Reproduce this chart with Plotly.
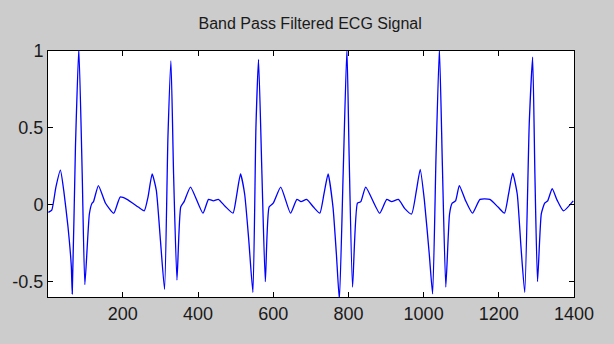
import plotly.graph_objects as go

# Key samples (sample index, amplitude)
sample_idx = [
    2, 11, 22, 34, 43, 54, 63, 65.5, 74, 83, 92, 99, 111, 118, 122, 135, 154, 176, 193, 211, 241, 257,
    267, 278, 289, 300, 311, 320, 328, 335, 344, 354, 363, 380,
    413, 428, 441, 454, 472, 493, 502, 513, 524, 535, 546, 554, 561, 570, 579, 589, 600, 620,
    646, 663, 674, 689, 707, 724, 735, 746, 759, 768, 776, 786, 796, 802, 811, 824, 833, 846,
    883, 902, 915, 933, 950, 968, 981, 991, 1002, 1015, 1024, 1033, 1042, 1050, 1059, 1069, 1076, 1085, 1095,
    1111, 1130, 1150, 1176, 1198, 1215, 1226, 1237, 1249, 1259, 1269, 1281, 1290, 1296, 1303, 1313, 1322, 1330, 1342,
    1355, 1372, 1398,
]
amplitude = [
    -0.05, -0.035, 0.115, 0.225, 0.09, -0.14, -0.40, -0.58, 0.375, 1.02, 0.2, -0.52, -0.06, 0.01, 0.02, 0.125, 0.01, -0.055, 0.05, 0.035, -0.015, -0.04,
    0.05, 0.2, 0.095, -0.23, -0.55, 0.44, 0.935, 0.2, -0.49, -0.015, 0.02, 0.115,
    -0.055, 0.035, 0.025, 0.035, -0.01, -0.055, 0.05, 0.2, 0.07, -0.23, -0.57, 0.5, 0.945, 0.2, -0.5, -0.015, 0.01, 0.115,
    -0.055, 0.035, 0.02, 0.035, -0.015, -0.055, 0.07, 0.2, -0.015, -0.32, -0.62, 0.2, 1.02, 0.31, -0.535, 0.01, 0.02, 0.115,
    -0.055, 0.035, 0.02, 0.035, -0.025, -0.06, 0.095, 0.23, 0.03, -0.32, -0.58, 0.31, 1.02, 0.25, -0.535, -0.06, 0.01, 0.025, 0.125,
    0.03, -0.055, 0.035, 0.035, -0.015, -0.055, 0.07, 0.205, 0.07, -0.275, -0.57, 0.53, 0.96, 0.2, -0.5, -0.06, 0.01, 0.025, 0.105,
    0.03, -0.04, 0.025,
]

x_ticks = [200, 400, 600, 800, 1000, 1200, 1400]
y_ticks = [-0.5, 0, 0.5, 1]
y_tick_text = ["-0.5", "0", "0.5", "1"]

FONT = "Liberation Sans, Arial, sans-serif"

fig = go.Figure()
fig.add_trace(go.Scatter(
    x=sample_idx, y=amplitude, mode="lines",
    line=dict(color="#0000ff", width=1.3, shape="spline", smoothing=0.5),
    hoverinfo="skip", showlegend=False,
))

axis_common = dict(
    showgrid=False, zeroline=False, showline=True, linecolor="black", linewidth=1,
    mirror="ticks", ticks="inside", ticklen=5, tickcolor="black", tickwidth=1,
    tickfont=dict(family=FONT, size=18, color="#1a1a1a"),
)

fig.update_layout(
    width=614, height=344,
    margin=dict(l=38, r=40, t=51, b=47),
    paper_bgcolor="#cccccc", plot_bgcolor="white",
    title=dict(
        text="Band Pass Filtered ECG Signal",
        font=dict(family=FONT, size=16, color="#1a1a1a"),
        x=306 / 614, xanchor="center", xref="paper",
        y=1 - 23 / 344, yanchor="middle", yref="container",
    ),
    xaxis=dict(range=[1, 1400], tickvals=x_ticks, ticktext=[str(v) for v in x_ticks], **axis_common),
    yaxis=dict(range=[-0.6, 1], tickvals=y_ticks, ticktext=y_tick_text, **axis_common),
)

fig.write_html("out.html")
